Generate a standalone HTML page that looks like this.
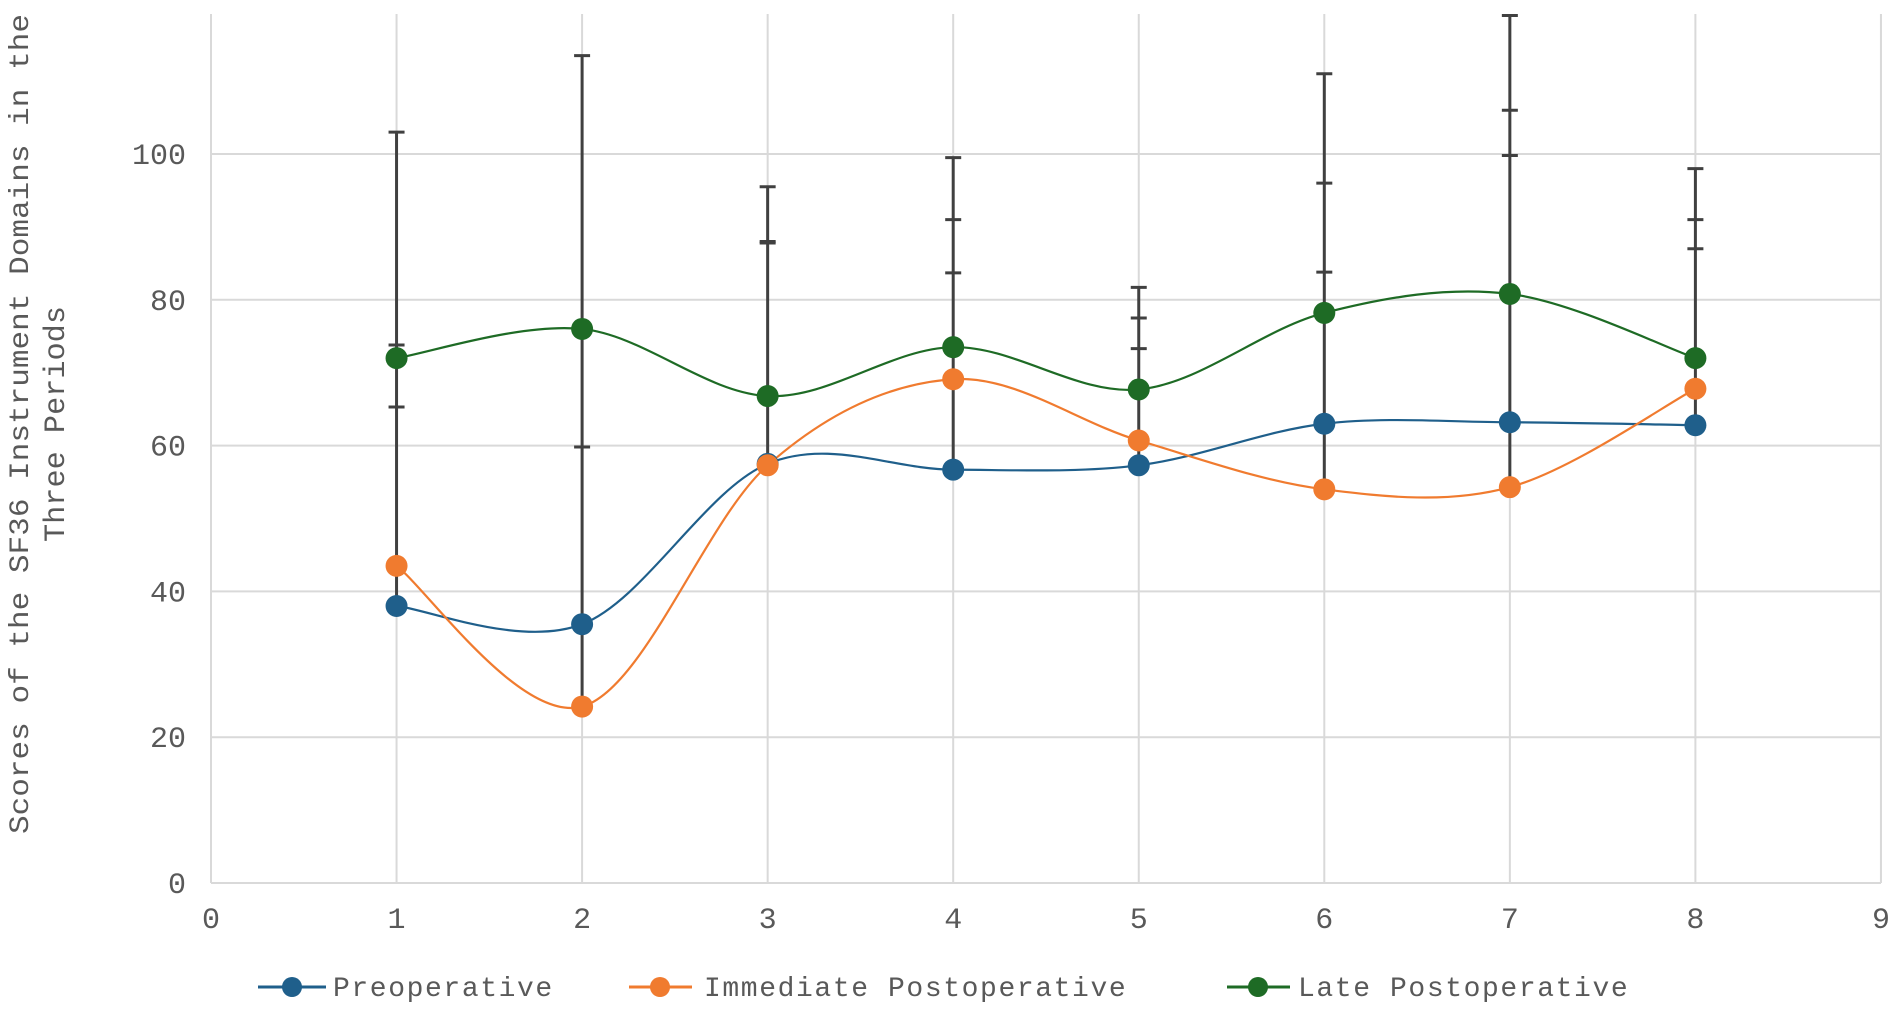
<!DOCTYPE html>
<html><head><meta charset="utf-8"><style>
html,body{margin:0;padding:0;background:#fff;}
svg{display:block;}
text{font-family:"Liberation Mono",monospace;fill:#595959;}
</style></head><body>
<svg id="s" width="1900" height="1017" viewBox="0 0 1900 1017" xmlns="http://www.w3.org/2000/svg">
<g id="grid" stroke="#d9d9d9" stroke-width="2"></g>
<g id="err" stroke="#404040" stroke-width="3"></g>
<g id="lines" fill="none" stroke-width="2.2"></g>
<g id="marks"></g>
<g id="labels" font-size="30"></g>
<text transform="translate(28,424) rotate(-90)" font-size="28" text-anchor="middle" textLength="820" lengthAdjust="spacingAndGlyphs">Scores of the SF36 Instrument Domains in the</text>
<text transform="translate(64,424) rotate(-90)" font-size="30" text-anchor="middle" textLength="236" lengthAdjust="spacingAndGlyphs">Three Periods</text>
<g font-size="28" letter-spacing="1.6">
<line x1="258" y1="987" x2="326" y2="987" stroke="#1f5f8b" stroke-width="3"/><circle cx="292" cy="987" r="10" fill="#1f5f8b"/>
<text x="333" y="996">Preoperative</text>
<line x1="629" y1="987" x2="692" y2="987" stroke="#f07b2f" stroke-width="3"/><circle cx="660" cy="987" r="10" fill="#f07b2f"/>
<text x="704" y="996">Immediate Postoperative</text>
<line x1="1227" y1="987" x2="1290" y2="987" stroke="#1e6b25" stroke-width="3"/><circle cx="1258" cy="987" r="10" fill="#1e6b25"/>
<text x="1298" y="996">Late Postoperative</text>
</g>
</svg>
<script>
var NS="http://www.w3.org/2000/svg";
function X(v){return 211+v*185.55;}
function Y(v){return 883-v*7.29;}
function el(p,n,a,t){var e=document.createElementNS(NS,n);for(var k in a)e.setAttribute(k,a[k]);if(t!=null)e.textContent=t;document.getElementById(p).appendChild(e);return e;}
for(var i=0;i<=5;i++){el("grid","line",{x1:211,x2:1881,y1:Y(i*20),y2:Y(i*20)});el("labels","text",{x:186,y:Y(i*20)+10,"text-anchor":"end"},String(i*20));}
for(var i=0;i<=9;i++){el("grid","line",{x1:X(i),x2:X(i),y1:14,y2:883});el("labels","text",{x:X(i),y:928,"text-anchor":"middle"},String(i));}
var pre=[38,35.5,57.5,56.7,57.3,63,63.2,62.8];
var imm=[43.5,24.2,57.3,69.1,60.7,54,54.3,67.8];
var late=[72,76,66.8,73.5,67.7,78.2,80.8,72];
var caps=[[103,73.8,65.3],[113.5,59.8],[95.5,88,87.8],[99.5,91,83.7],[81.7,77.5,73.3],[111,96,83.8],[119,106,99.8],[98,91,87]];
for(var i=0;i<8;i++){var lo=Math.min(pre[i],imm[i],late[i]);var hi=Math.max.apply(null,caps[i]);var x=X(i+1);
el("err","line",{x1:x,x2:x,y1:Y(lo),y2:Y(hi)});
caps[i].forEach(function(c){el("err","line",{x1:x-8,x2:x+8,y1:Y(c),y2:Y(c)});});}
function curve(d,col){var p=d.map(function(v,i){return [X(i+1),Y(v)];});var s="M"+p[0][0]+","+p[0][1];var t=1/6;
for(var i=0;i<p.length-1;i++){var p0=p[Math.max(i-1,0)],p1=p[i],p2=p[i+1],p3=p[Math.min(i+2,p.length-1)];
s+=" C"+(p1[0]+(p2[0]-p0[0])*t)+","+(p1[1]+(p2[1]-p0[1])*t)+" "+(p2[0]-(p3[0]-p1[0])*t)+","+(p2[1]-(p3[1]-p1[1])*t)+" "+p2[0]+","+p2[1];}
el("lines","path",{d:s,stroke:col});
p.forEach(function(q){el("marks","circle",{cx:q[0],cy:q[1],r:11,fill:col});});}
curve(pre,"#1f5f8b");curve(imm,"#f07b2f");curve(late,"#1e6b25");
</script>
</body></html>
